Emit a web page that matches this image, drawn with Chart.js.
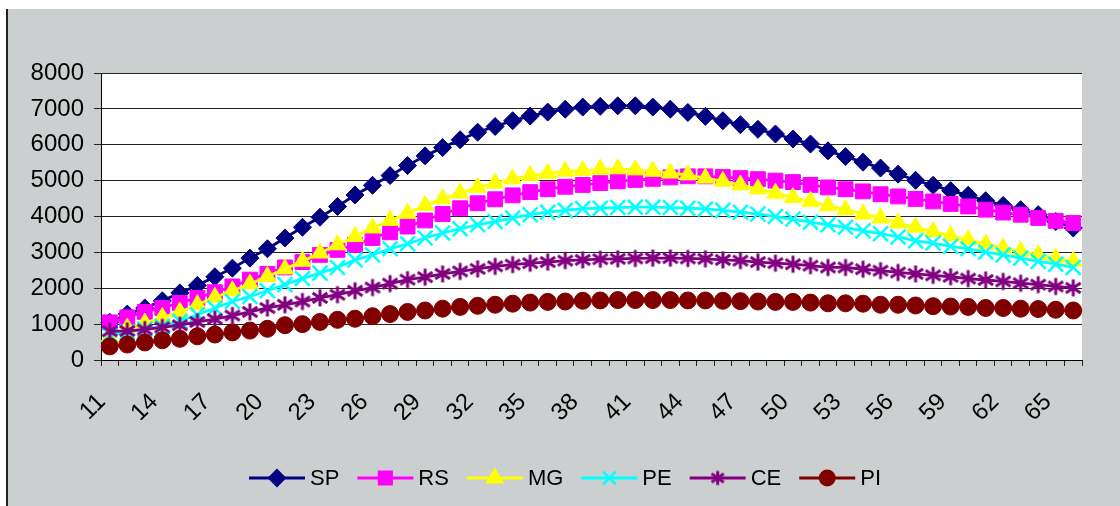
<!DOCTYPE html>
<html>
<head>
<meta charset="utf-8">
<script src="https://cdn.jsdelivr.net/npm/chart.js@4"></script>
<style>
    html, body { margin: 0; padding: 0; background: #fff; }
    #wrap { position: relative; width: 1120px; height: 506px; }
</style>
</head>
<body>
<div id="wrap"><canvas id="ageChart" width="1120" height="506"></canvas></div>
<script>
// Categories (age) and series values
const ages = [11,12,13,14,15,16,17,18,19,20,21,22,23,24,25,26,27,28,29,30,31,32,33,34,35,36,37,38,
    39,40,41,42,43,44,45,46,47,48,49,50,51,52,53,54,55,56,57,58,59,60,61,62,63,64,65,66];

const sp = [1050,1280,1450,1650,1870,2080,2320,2560,2840,3100,3400,3700,3980,4280,
    4600,4870,5140,5420,5690,5920,6140,6350,6510,6670,6800,6910,6990,7050,
    7070,7085,7085,7050,6990,6900,6790,6670,6560,6430,6300,6160,6020,5830,
    5670,5515,5350,5180,5010,4870,4720,4590,4440,4310,4190,4050,3860,3680];
const rs = [1050,1190,1340,1450,1590,1730,1890,2050,2240,2400,2580,2730,2930,3070,
    3210,3400,3560,3720,3890,4070,4230,4370,4480,4590,4680,4760,4830,4880,
    4930,4980,5020,5050,5090,5120,5120,5100,5070,5040,5000,4960,4880,4810,
    4760,4700,4620,4560,4490,4420,4350,4280,4190,4110,4050,3960,3880,3820];
const mg = [650,890,1030,1190,1340,1540,1750,1930,2120,2330,2540,2750,2980,3210,
    3440,3680,3890,4090,4310,4490,4650,4810,4930,5050,5140,5200,5260,5280,
    5320,5330,5300,5260,5210,5160,5070,4980,4880,4770,4650,4530,4420,4300,
    4190,4070,3960,3820,3700,3580,3460,3350,3230,3120,3030,2930,2840,2750];
const pe = [700,780,860,940,1080,1260,1450,1630,1770,1930,2100,2270,2420,2580,
    2790,2930,3100,3240,3400,3540,3660,3770,3860,3960,4050,4120,4170,4220,
    4230,4250,4260,4260,4250,4230,4210,4170,4120,4070,4000,3930,3840,3770,
    3700,3600,3520,3430,3320,3260,3170,3100,3010,2930,2840,2750,2670,2580];
const ce = [800,810,850,910,970,1060,1140,1240,1340,1450,1540,1630,1730,1820,
    1930,2020,2130,2240,2310,2400,2470,2540,2610,2660,2700,2730,2770,2790,
    2810,2820,2830,2840,2840,2830,2820,2790,2770,2730,2700,2670,2630,2580,
    2580,2530,2490,2440,2400,2360,2320,2270,2230,2190,2140,2100,2050,2010];
const pi = [380,430,490,550,590,660,710,770,820,870,970,1000,1060,1120,
    1150,1220,1280,1340,1380,1430,1480,1510,1540,1570,1600,1620,1630,1650,
    1660,1670,1670,1670,1670,1660,1660,1650,1640,1630,1620,1620,1600,1580,
    1580,1570,1540,1540,1520,1500,1490,1480,1450,1450,1430,1420,1400,1380];

const yTicks = [0,1000,2000,3000,4000,5000,6000,7000,8000];

// Excel style asterisk: X plus a vertical bar
function makeAsterisk(color, size, width) {
    const c = document.createElement('canvas');
    c.width = size; c.height = size;
    const g = c.getContext('2d');
    const m = size / 2, a = size / 2 - 1.5;
    g.strokeStyle = color;
    g.lineWidth = width;
    g.beginPath();
    g.moveTo(m, m - a); g.lineTo(m, m + a);
    g.moveTo(m - a * 0.87, m - a * 0.6); g.lineTo(m + a * 0.87, m + a * 0.6);
    g.moveTo(m - a * 0.87, m + a * 0.6); g.lineTo(m + a * 0.87, m - a * 0.6);
    g.stroke();
    return c;
}

const asterisk = makeAsterisk('#800080', 20, 3);
const legendAsterisk = makeAsterisk('#800080', 17, 3);

const series = [
    { label: 'SP', data: sp, color: '#000080', style: 'rectRot', radius: 9 },
    { label: 'RS', data: rs, color: '#ff00ff', style: 'rect', radius: 10.5 },
    { label: 'MG', data: mg, color: '#ffff00', style: 'triangle', radius: 10 },
    { label: 'PE', data: pe, color: '#00ffff', style: 'crossRot', radius: 10.5 },
    { label: 'CE', data: ce, color: '#800080', style: asterisk, legendStyle: legendAsterisk, radius: 9 },
    { label: 'PI', data: pi, color: '#800000', style: 'circle', radius: 8.5 }
];

const fontFamily = '"Liberation Sans", Arial, sans-serif';

// Gray chart area with the thin black edge on the left
const background = {
    id: 'background',
    beforeDraw(chart) {
        const c = chart.ctx;
        c.save();
        c.fillStyle = '#ffffff';
        c.fillRect(0, 0, chart.width, chart.height);
        c.fillStyle = '#cbcfd0';
        c.fillRect(7, 9, chart.width - 7, chart.height - 9);
        c.fillStyle = '#222';
        c.fillRect(6, 9, 2, chart.height - 9);
        c.fillStyle = '#ffffff';
        const a = chart.chartArea;
        c.fillRect(a.left, a.top, a.right - a.left, a.bottom - a.top);
        c.restore();
    }
};

// Legend with line + marker like the spreadsheet legend
const lineLegend = {
    id: 'lineLegend',
    afterDraw(chart) {
        const c = chart.ctx;
        const y = 478, lineLen = 56, gap = 5, spacing = 18;
        c.save();
        c.font = '22px ' + fontFamily;
        c.textBaseline = 'middle';
        let total = 0;
        series.forEach(s => { total += lineLen + gap + c.measureText(s.label).width + spacing; });
        total -= spacing;
        let x = 565 - total / 2;
        series.forEach(s => {
            c.strokeStyle = s.color;
            c.fillStyle = s.color;
            c.lineWidth = 3;
            c.beginPath();
            c.moveTo(x, y);
            c.lineTo(x + lineLen, y);
            c.stroke();
            c.lineWidth = 2.5;
            Chart.helpers.drawPoint(c, { pointStyle: s.legendStyle || s.style, radius: s.radius * 0.85, rotation: 0, borderWidth: 2.5 }, x + lineLen / 2, y);
            c.fillStyle = '#000';
            c.fillText(s.label, x + lineLen + gap, y + 1);
            x += lineLen + gap + c.measureText(s.label).width + spacing;
        });
        c.restore();
    }
};

const ctx = document.getElementById('ageChart').getContext('2d');
const ageChart = new Chart(ctx, {
    type: 'line',
    data: {
        labels: ages,
        datasets: series.map((s, i) => ({
            label: s.label,
            data: s.data,
            borderColor: s.color,
            backgroundColor: s.color,
            pointBackgroundColor: s.color,
            pointBorderColor: s.color,
            pointStyle: s.style,
            pointRadius: s.radius,
            pointBorderWidth: (s.style === 'crossRot') ? 2.5 : 1,
            borderWidth: 2.8,
            tension: 0,
            fill: false,
            order: series.length - i
        }))
    },
    options: {
        responsive: false,
        animation: false,
        events: [],
        layout: {
            padding: { top: 73, right: 38, left: 0, bottom: 86 }
        },
        plugins: {
            legend: { display: false },
            tooltip: { enabled: false },
            title: { display: false }
        },
        scales: {
            x: {
                offset: true,
                grid: {
                    offset: true,
                    drawOnChartArea: false,
                    drawTicks: true,
                    tickLength: 6,
                    color: '#222'
                },
                border: { color: '#000', width: 1 },
                ticks: {
                    autoSkip: false,
                    maxRotation: 45,
                    minRotation: 45,
                    padding: 22,
                    labelOffset: -8,
                    color: '#000',
                    font: { family: fontFamily, size: 24 },
                    callback: function(value, index) {
                        return index % 3 === 0 ? String(ages[index]) : '';
                    }
                },
                afterFit(scale) { scale.height = 60; }
            },
            y: {
                min: yTicks[0],
                max: yTicks[yTicks.length - 1],
                afterBuildTicks(scale) { scale.ticks = yTicks.map(v => ({ value: v })); },
                grid: {
                    color: '#222',
                    lineWidth: 1,
                    tickLength: 7
                },
                border: { color: '#000', width: 1 },
                ticks: {
                    padding: 10,
                    color: '#000',
                    font: { family: fontFamily, size: 24 },
                    callback: value => String(value)
                },
                afterFit(scale) { scale.width = 101; }
            }
        }
    },
    plugins: [background, lineLegend]
});
</script>
</body>
</html>
